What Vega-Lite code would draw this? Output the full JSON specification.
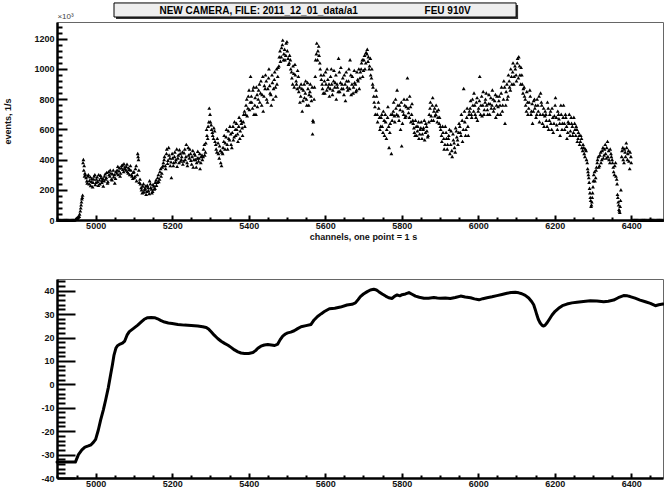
{
  "$schema": "https://vega.github.io/schema/vega-lite/v6.json",
  "background": "white",
  "padding": {"left": 2, "top": 1, "right": 0, "bottom": 0},
  "bounds": "flush",
  "spacing": 59,
  "config": {
    "view": {"stroke": "#666666", "strokeWidth": 1},
    "axis": {
      "domainColor": "#000000", "domainWidth": 2.5, "tickColor": "#000000", "tickWidth": 2,
      "labelFont": "Liberation Sans", "labelFontWeight": "bold", "labelFontSize": 9, "labelColor": "#111111",
      "titleFont": "Liberation Sans", "titleFontWeight": "bold", "titleFontSize": 9, "titleColor": "#111111",
      "grid": false, "labelOverlap": false, "labelFlush": false, "labelBound": false
    }
  },
  "vconcat": [
    {
      "width": 606,
      "height": 198,
      "resolve": {"axis": {"x": "independent", "y": "independent"}},
      "layer": [
        {
          "data": {"values": [
            {"ch":4900,"ev":0},{"ch":4903,"ev":0},{"ch":4906,"ev":0},{"ch":4909,"ev":0},{"ch":4912,"ev":0},{"ch":4915,"ev":0},{"ch":4918,"ev":0},{"ch":4921,"ev":0},{"ch":4924,"ev":0},{"ch":4927,"ev":0},{"ch":4930,"ev":0},{"ch":4933,"ev":0},{"ch":4936,"ev":0},{"ch":4939,"ev":0},{"ch":4942,"ev":0},{"ch":4945,"ev":0},
            {"ch":4948,"ev":5},{"ch":4951,"ev":12},{"ch":4954,"ev":18},{"ch":4957,"ev":25},{"ch":4960,"ev":60},{"ch":4962,"ev":100},{"ch":4964,"ev":140},{"ch":4966,"ev":165},{"ch":4968,"ev":400},{"ch":4970,"ev":360},{"ch":4972,"ev":310},
            {"ch":4949,"ev":8},{"ch":4952,"ev":15},{"ch":4955,"ev":22},{"ch":4958,"ev":40},{"ch":4961,"ev":80},{"ch":4963,"ev":120},{"ch":4965,"ev":150},{"ch":4967,"ev":380},{"ch":4969,"ev":330},{"ch":4971,"ev":290},{"ch":4973,"ev":300},
            {"ch":4975,"ev":280},{"ch":4978,"ev":245},{"ch":4981,"ev":300},{"ch":4984,"ev":262},{"ch":4987,"ev":228},{"ch":4990,"ev":275},{"ch":4993,"ev":250},{"ch":4996,"ev":290},{"ch":4999,"ev":235},{"ch":5002,"ev":270},{"ch":5005,"ev":255},{"ch":5008,"ev":300},{"ch":5011,"ev":240},{"ch":5014,"ev":280},{"ch":5017,"ev":262},{"ch":5020,"ev":225},
            {"ch":4977,"ev":260},{"ch":4980,"ev":290},{"ch":4983,"ev":240},{"ch":4986,"ev":285},{"ch":4989,"ev":255},{"ch":4992,"ev":220},{"ch":4995,"ev":270},{"ch":4998,"ev":300},{"ch":5001,"ev":250},{"ch":5004,"ev":285},{"ch":5007,"ev":230},{"ch":5010,"ev":265},{"ch":5013,"ev":295},{"ch":5016,"ev":250},{"ch":5019,"ev":275},
            {"ch":5023,"ev":290},{"ch":5026,"ev":270},{"ch":5029,"ev":315},{"ch":5032,"ev":255},{"ch":5035,"ev":300},{"ch":5038,"ev":330},{"ch":5041,"ev":270},{"ch":5044,"ev":305},{"ch":5047,"ev":285},{"ch":5050,"ev":245},{"ch":5053,"ev":320},
            {"ch":5022,"ev":260},{"ch":5025,"ev":305},{"ch":5028,"ev":280},{"ch":5031,"ev":245},{"ch":5034,"ev":320},{"ch":5037,"ev":290},{"ch":5040,"ev":310},{"ch":5043,"ev":265},{"ch":5046,"ev":330},{"ch":5049,"ev":300},{"ch":5052,"ev":275},
            {"ch":5056,"ev":330},{"ch":5059,"ev":300},{"ch":5062,"ev":345},{"ch":5065,"ev":310},{"ch":5068,"ev":360},{"ch":5071,"ev":335},{"ch":5074,"ev":372},{"ch":5077,"ev":340},{"ch":5080,"ev":355},{"ch":5083,"ev":320},{"ch":5086,"ev":345},{"ch":5089,"ev":300},{"ch":5092,"ev":330},{"ch":5095,"ev":290},{"ch":5098,"ev":315},
            {"ch":5055,"ev":310},{"ch":5058,"ev":355},{"ch":5061,"ev":325},{"ch":5064,"ev":290},{"ch":5067,"ev":345},{"ch":5070,"ev":365},{"ch":5073,"ev":320},{"ch":5076,"ev":350},{"ch":5079,"ev":330},{"ch":5082,"ev":370},{"ch":5085,"ev":310},{"ch":5088,"ev":335},{"ch":5091,"ev":360},{"ch":5094,"ev":300},{"ch":5097,"ev":275},
            {"ch":5101,"ev":280},{"ch":5104,"ev":340},{"ch":5107,"ev":260},{"ch":5110,"ev":440},{"ch":5112,"ev":400},{"ch":5114,"ev":250},
            {"ch":5100,"ev":320},{"ch":5103,"ev":290},{"ch":5106,"ev":360},{"ch":5109,"ev":300},{"ch":5111,"ev":420},{"ch":5113,"ev":330},
            {"ch":5117,"ev":240},{"ch":5120,"ev":200},{"ch":5123,"ev":225},{"ch":5126,"ev":185},{"ch":5129,"ev":210},{"ch":5132,"ev":170},{"ch":5135,"ev":230},{"ch":5138,"ev":195},{"ch":5141,"ev":260},{"ch":5144,"ev":215},{"ch":5147,"ev":180},{"ch":5150,"ev":235},{"ch":5153,"ev":205},{"ch":5156,"ev":250},
            {"ch":5116,"ev":270},{"ch":5119,"ev":215},{"ch":5122,"ev":180},{"ch":5125,"ev":240},{"ch":5128,"ev":200},{"ch":5131,"ev":225},{"ch":5134,"ev":190},{"ch":5137,"ev":215},{"ch":5140,"ev":175},{"ch":5143,"ev":240},{"ch":5146,"ev":205},{"ch":5149,"ev":190},{"ch":5152,"ev":225},{"ch":5155,"ev":210},{"ch":5158,"ev":265},
            {"ch":5159,"ev":230},{"ch":5162,"ev":280},{"ch":5165,"ev":255},{"ch":5168,"ev":320},{"ch":5171,"ev":290},{"ch":5174,"ev":350},
            {"ch":5161,"ev":250},{"ch":5164,"ev":300},{"ch":5167,"ev":270},{"ch":5170,"ev":340},{"ch":5173,"ev":310},{"ch":5176,"ev":360},
            {"ch":5177,"ev":380},{"ch":5180,"ev":420},{"ch":5183,"ev":340},{"ch":5186,"ev":470},{"ch":5189,"ev":395},{"ch":5192,"ev":430},{"ch":5195,"ev":360},{"ch":5198,"ev":280},{"ch":5201,"ev":410},{"ch":5204,"ev":380},{"ch":5207,"ev":450},{"ch":5210,"ev":400},{"ch":5213,"ev":355},{"ch":5216,"ev":430},{"ch":5219,"ev":465},{"ch":5222,"ev":390},{"ch":5225,"ev":420},{"ch":5228,"ev":370},
            {"ch":5179,"ev":400},{"ch":5182,"ev":360},{"ch":5185,"ev":440},{"ch":5188,"ev":375},{"ch":5191,"ev":480},{"ch":5194,"ev":410},{"ch":5197,"ev":385},{"ch":5200,"ev":440},{"ch":5203,"ev":360},{"ch":5206,"ev":420},{"ch":5209,"ev":385},{"ch":5212,"ev":470},{"ch":5215,"ev":410},{"ch":5218,"ev":380},{"ch":5221,"ev":440},{"ch":5224,"ev":400},{"ch":5227,"ev":450},
            {"ch":5231,"ev":445},{"ch":5234,"ev":400},{"ch":5237,"ev":500},{"ch":5240,"ev":360},{"ch":5243,"ev":430},{"ch":5246,"ev":470},{"ch":5249,"ev":395},{"ch":5252,"ev":420},{"ch":5255,"ev":350},{"ch":5258,"ev":440},{"ch":5261,"ev":400},{"ch":5264,"ev":380},{"ch":5267,"ev":455},{"ch":5270,"ev":410},{"ch":5273,"ev":340},{"ch":5276,"ev":420},
            {"ch":5230,"ev":390},{"ch":5233,"ev":470},{"ch":5236,"ev":420},{"ch":5239,"ev":380},{"ch":5242,"ev":480},{"ch":5245,"ev":410},{"ch":5248,"ev":440},{"ch":5251,"ev":370},{"ch":5254,"ev":460},{"ch":5257,"ev":400},{"ch":5260,"ev":430},{"ch":5263,"ev":350},{"ch":5266,"ev":410},{"ch":5269,"ev":390},{"ch":5272,"ev":440},{"ch":5275,"ev":380},{"ch":5278,"ev":430},
            {"ch":5279,"ev":400},{"ch":5282,"ev":470},{"ch":5285,"ev":430},{"ch":5288,"ev":510},{"ch":5291,"ev":560},{"ch":5294,"ev":620},{"ch":5297,"ev":740},{"ch":5300,"ev":650},
            {"ch":5281,"ev":420},{"ch":5284,"ev":500},{"ch":5287,"ev":450},{"ch":5290,"ev":600},{"ch":5293,"ev":540},{"ch":5296,"ev":650},{"ch":5299,"ev":700},
            {"ch":5303,"ev":600},{"ch":5306,"ev":560},{"ch":5309,"ev":610},{"ch":5312,"ev":520},{"ch":5315,"ev":470},{"ch":5318,"ev":540},{"ch":5321,"ev":440},{"ch":5324,"ev":490},{"ch":5327,"ev":380},{"ch":5330,"ev":450},
            {"ch":5302,"ev":630},{"ch":5305,"ev":580},{"ch":5308,"ev":540},{"ch":5311,"ev":590},{"ch":5314,"ev":500},{"ch":5317,"ev":450},{"ch":5320,"ev":510},{"ch":5323,"ev":410},{"ch":5326,"ev":460},{"ch":5329,"ev":360},
            {"ch":5333,"ev":480},{"ch":5336,"ev":560},{"ch":5339,"ev":510},{"ch":5342,"ev":600},{"ch":5345,"ev":470},{"ch":5348,"ev":540},{"ch":5351,"ev":620},{"ch":5354,"ev":500},{"ch":5357,"ev":580},{"ch":5360,"ev":530},{"ch":5363,"ev":650},{"ch":5366,"ev":560},{"ch":5369,"ev":600},{"ch":5372,"ev":520},{"ch":5375,"ev":680},{"ch":5378,"ev":590},{"ch":5381,"ev":640},{"ch":5384,"ev":560},{"ch":5387,"ev":700},{"ch":5390,"ev":620},
            {"ch":5332,"ev":440},{"ch":5335,"ev":520},{"ch":5338,"ev":470},{"ch":5341,"ev":550},{"ch":5344,"ev":500},{"ch":5347,"ev":590},{"ch":5350,"ev":530},{"ch":5353,"ev":570},{"ch":5356,"ev":480},{"ch":5359,"ev":620},{"ch":5362,"ev":550},{"ch":5365,"ev":600},{"ch":5368,"ev":640},{"ch":5371,"ev":570},{"ch":5374,"ev":620},{"ch":5377,"ev":540},{"ch":5380,"ev":660},{"ch":5383,"ev":610},{"ch":5386,"ev":650},{"ch":5389,"ev":720},
            {"ch":5393,"ev":760},{"ch":5396,"ev":690},{"ch":5399,"ev":820},{"ch":5402,"ev":730},{"ch":5405,"ev":950},{"ch":5408,"ev":780},{"ch":5411,"ev":860},{"ch":5414,"ev":700},{"ch":5417,"ev":810},{"ch":5420,"ev":880},{"ch":5423,"ev":750},
            {"ch":5392,"ev":700},{"ch":5395,"ev":800},{"ch":5398,"ev":740},{"ch":5401,"ev":860},{"ch":5404,"ev":780},{"ch":5407,"ev":820},{"ch":5410,"ev":740},{"ch":5413,"ev":880},{"ch":5416,"ev":760},{"ch":5419,"ev":700},{"ch":5422,"ev":830},
            {"ch":5426,"ev":860},{"ch":5429,"ev":780},{"ch":5432,"ev":920},{"ch":5435,"ev":830},{"ch":5438,"ev":720},{"ch":5441,"ev":890},{"ch":5444,"ev":960},{"ch":5447,"ev":800},{"ch":5450,"ev":870},{"ch":5453,"ev":1000},{"ch":5456,"ev":840},{"ch":5459,"ev":760},{"ch":5462,"ev":910},{"ch":5465,"ev":870},{"ch":5468,"ev":980},{"ch":5471,"ev":820},{"ch":5474,"ev":900},{"ch":5477,"ev":1010},
            {"ch":5425,"ev":800},{"ch":5428,"ev":900},{"ch":5431,"ev":840},{"ch":5434,"ev":760},{"ch":5437,"ev":950},{"ch":5440,"ev":820},{"ch":5443,"ev":870},{"ch":5446,"ev":920},{"ch":5449,"ev":780},{"ch":5452,"ev":940},{"ch":5455,"ev":890},{"ch":5458,"ev":830},{"ch":5461,"ev":960},{"ch":5464,"ev":800},{"ch":5467,"ev":930},{"ch":5470,"ev":880},{"ch":5473,"ev":1000},{"ch":5476,"ev":950},
            {"ch":5480,"ev":1080},{"ch":5483,"ev":1050},{"ch":5486,"ev":1140},{"ch":5489,"ev":1190},{"ch":5492,"ev":1100},{"ch":5495,"ev":1060},{"ch":5498,"ev":1170},{"ch":5501,"ev":1120},{"ch":5504,"ev":1030},{"ch":5507,"ev":1090},
            {"ch":5479,"ev":1020},{"ch":5482,"ev":1120},{"ch":5485,"ev":1080},{"ch":5488,"ev":1160},{"ch":5491,"ev":1060},{"ch":5494,"ev":1130},{"ch":5497,"ev":1090},{"ch":5500,"ev":1180},{"ch":5503,"ev":1070},{"ch":5506,"ev":1040},{"ch":5509,"ev":1060},
            {"ch":5510,"ev":1000},{"ch":5513,"ev":940},{"ch":5516,"ev":1020},{"ch":5519,"ev":880},{"ch":5522,"ev":960},{"ch":5525,"ev":900},{"ch":5528,"ev":990},
            {"ch":5512,"ev":980},{"ch":5515,"ev":900},{"ch":5518,"ev":970},{"ch":5521,"ev":1030},{"ch":5524,"ev":920},{"ch":5527,"ev":870},{"ch":5530,"ev":950},
            {"ch":5531,"ev":850},{"ch":5534,"ev":780},{"ch":5537,"ev":900},{"ch":5540,"ev":720},{"ch":5543,"ev":860},{"ch":5546,"ev":810},{"ch":5549,"ev":920},{"ch":5552,"ev":760},{"ch":5555,"ev":870},{"ch":5558,"ev":830},{"ch":5561,"ev":900},{"ch":5564,"ev":790},{"ch":5567,"ev":570},{"ch":5569,"ev":650},{"ch":5572,"ev":880},
            {"ch":5533,"ev":880},{"ch":5536,"ev":820},{"ch":5539,"ev":870},{"ch":5542,"ev":790},{"ch":5545,"ev":900},{"ch":5548,"ev":840},{"ch":5551,"ev":800},{"ch":5554,"ev":910},{"ch":5557,"ev":760},{"ch":5560,"ev":850},{"ch":5563,"ev":820},{"ch":5566,"ev":880},{"ch":5568,"ev":660},{"ch":5571,"ev":800},{"ch":5574,"ev":950},
            {"ch":5575,"ev":1060},{"ch":5578,"ev":1170},{"ch":5581,"ev":1120},{"ch":5584,"ev":1090},{"ch":5587,"ev":1000},
            {"ch":5577,"ev":1100},{"ch":5580,"ev":1060},{"ch":5583,"ev":1150},{"ch":5586,"ev":1040},{"ch":5589,"ev":960},
            {"ch":5590,"ev":930},{"ch":5593,"ev":870},{"ch":5596,"ev":960},{"ch":5599,"ev":840},{"ch":5602,"ev":900},{"ch":5605,"ev":1000},{"ch":5608,"ev":880},{"ch":5611,"ev":820},{"ch":5614,"ev":950},{"ch":5617,"ev":900},{"ch":5620,"ev":860},{"ch":5623,"ev":990},{"ch":5626,"ev":910},{"ch":5629,"ev":800},{"ch":5632,"ev":880},{"ch":5635,"ev":1070},{"ch":5638,"ev":850},{"ch":5641,"ev":1010},{"ch":5644,"ev":900},{"ch":5647,"ev":870},{"ch":5650,"ev":960},{"ch":5653,"ev":790},{"ch":5656,"ev":920},{"ch":5659,"ev":860},{"ch":5662,"ev":1000},{"ch":5665,"ev":1060},{"ch":5668,"ev":830},{"ch":5671,"ev":950},{"ch":5674,"ev":880},{"ch":5677,"ev":910},{"ch":5680,"ev":850},{"ch":5683,"ev":980},{"ch":5686,"ev":920},{"ch":5689,"ev":870},
            {"ch":5592,"ev":900},{"ch":5595,"ev":840},{"ch":5598,"ev":920},{"ch":5601,"ev":980},{"ch":5604,"ev":860},{"ch":5607,"ev":930},{"ch":5610,"ev":900},{"ch":5613,"ev":870},{"ch":5616,"ev":1000},{"ch":5619,"ev":830},{"ch":5622,"ev":920},{"ch":5625,"ev":880},{"ch":5628,"ev":960},{"ch":5631,"ev":900},{"ch":5634,"ev":850},{"ch":5637,"ev":980},{"ch":5640,"ev":910},{"ch":5643,"ev":870},{"ch":5646,"ev":940},{"ch":5649,"ev":830},{"ch":5652,"ev":900},{"ch":5655,"ev":980},{"ch":5658,"ev":880},{"ch":5661,"ev":920},{"ch":5664,"ev":870},{"ch":5667,"ev":960},{"ch":5670,"ev":900},{"ch":5673,"ev":840},{"ch":5676,"ev":990},{"ch":5679,"ev":900},{"ch":5682,"ev":860},{"ch":5685,"ev":930},{"ch":5688,"ev":1000},
            {"ch":5692,"ev":980},{"ch":5695,"ev":1040},{"ch":5698,"ev":950},{"ch":5701,"ev":1060},{"ch":5704,"ev":1000},{"ch":5707,"ev":1110},{"ch":5710,"ev":1130},{"ch":5713,"ev":1080},{"ch":5716,"ev":1020},{"ch":5719,"ev":960},{"ch":5722,"ev":1000},
            {"ch":5691,"ev":940},{"ch":5694,"ev":1000},{"ch":5697,"ev":1060},{"ch":5700,"ev":990},{"ch":5703,"ev":1090},{"ch":5706,"ev":1040},{"ch":5709,"ev":1100},{"ch":5712,"ev":1050},{"ch":5715,"ev":1000},{"ch":5718,"ev":1070},{"ch":5721,"ev":940},{"ch":5724,"ev":900},
            {"ch":5725,"ev":880},{"ch":5728,"ev":780},{"ch":5731,"ev":700},{"ch":5734,"ev":820},{"ch":5737,"ev":650},{"ch":5740,"ev":740},{"ch":5743,"ev":600},
            {"ch":5727,"ev":820},{"ch":5730,"ev":750},{"ch":5733,"ev":860},{"ch":5736,"ev":700},{"ch":5739,"ev":780},{"ch":5742,"ev":680},{"ch":5745,"ev":620},
            {"ch":5746,"ev":680},{"ch":5749,"ev":620},{"ch":5752,"ev":720},{"ch":5755,"ev":560},{"ch":5758,"ev":650},{"ch":5761,"ev":600},{"ch":5764,"ev":750},{"ch":5767,"ev":480},{"ch":5770,"ev":640},{"ch":5773,"ev":440},
            {"ch":5748,"ev":700},{"ch":5751,"ev":580},{"ch":5754,"ev":660},{"ch":5757,"ev":700},{"ch":5760,"ev":540},{"ch":5763,"ev":680},{"ch":5766,"ev":620},{"ch":5769,"ev":580},{"ch":5772,"ev":700},{"ch":5775,"ev":660},
            {"ch":5776,"ev":700},{"ch":5779,"ev":780},{"ch":5782,"ev":650},{"ch":5785,"ev":740},{"ch":5788,"ev":860},{"ch":5791,"ev":690},{"ch":5794,"ev":760},{"ch":5797,"ev":600},{"ch":5800,"ev":490},{"ch":5803,"ev":720},{"ch":5806,"ev":800},{"ch":5809,"ev":680},{"ch":5812,"ev":750},{"ch":5815,"ev":940},{"ch":5818,"ev":710},{"ch":5821,"ev":820},{"ch":5824,"ev":650},{"ch":5827,"ev":770},
            {"ch":5778,"ev":720},{"ch":5781,"ev":690},{"ch":5784,"ev":800},{"ch":5787,"ev":700},{"ch":5790,"ev":760},{"ch":5793,"ev":660},{"ch":5796,"ev":730},{"ch":5799,"ev":780},{"ch":5802,"ev":640},{"ch":5805,"ev":700},{"ch":5808,"ev":760},{"ch":5811,"ev":690},{"ch":5814,"ev":800},{"ch":5817,"ev":740},{"ch":5820,"ev":680},{"ch":5823,"ev":750},{"ch":5826,"ev":700},{"ch":5829,"ev":660},
            {"ch":5830,"ev":640},{"ch":5833,"ev":580},{"ch":5836,"ev":660},{"ch":5839,"ev":560},{"ch":5842,"ev":620},{"ch":5845,"ev":540},{"ch":5848,"ev":600},{"ch":5851,"ev":650},{"ch":5854,"ev":570},{"ch":5857,"ev":610},{"ch":5860,"ev":530},{"ch":5863,"ev":640},{"ch":5866,"ev":590},{"ch":5869,"ev":560},
            {"ch":5832,"ev":610},{"ch":5835,"ev":560},{"ch":5838,"ev":620},{"ch":5841,"ev":590},{"ch":5844,"ev":650},{"ch":5847,"ev":570},{"ch":5850,"ev":610},{"ch":5853,"ev":540},{"ch":5856,"ev":600},{"ch":5859,"ev":660},{"ch":5862,"ev":580},{"ch":5865,"ev":620},{"ch":5868,"ev":550},{"ch":5871,"ev":650},
            {"ch":5872,"ev":700},{"ch":5875,"ev":780},{"ch":5878,"ev":660},{"ch":5881,"ev":810},{"ch":5884,"ev":720},{"ch":5887,"ev":690},{"ch":5890,"ev":760},{"ch":5893,"ev":650},{"ch":5896,"ev":730},{"ch":5899,"ev":680},
            {"ch":5874,"ev":740},{"ch":5877,"ev":690},{"ch":5880,"ev":760},{"ch":5883,"ev":660},{"ch":5886,"ev":740},{"ch":5889,"ev":700},{"ch":5892,"ev":720},{"ch":5895,"ev":680},{"ch":5898,"ev":640},{"ch":5901,"ev":620},
            {"ch":5902,"ev":600},{"ch":5905,"ev":520},{"ch":5908,"ev":580},{"ch":5911,"ev":470},{"ch":5914,"ev":620},{"ch":5917,"ev":540},{"ch":5920,"ev":500},{"ch":5923,"ev":560},{"ch":5926,"ev":440},{"ch":5929,"ev":590},{"ch":5932,"ev":420},{"ch":5935,"ev":530},{"ch":5938,"ev":480},{"ch":5941,"ev":610},{"ch":5944,"ev":550},{"ch":5947,"ev":500},
            {"ch":5904,"ev":560},{"ch":5907,"ev":620},{"ch":5910,"ev":540},{"ch":5913,"ev":500},{"ch":5916,"ev":580},{"ch":5919,"ev":470},{"ch":5922,"ev":540},{"ch":5925,"ev":600},{"ch":5928,"ev":500},{"ch":5931,"ev":460},{"ch":5934,"ev":570},{"ch":5937,"ev":510},{"ch":5940,"ev":450},{"ch":5943,"ev":590},{"ch":5946,"ev":530},{"ch":5949,"ev":580},
            {"ch":5950,"ev":640},{"ch":5953,"ev":580},{"ch":5956,"ev":700},{"ch":5959,"ev":520},{"ch":5962,"ev":870},{"ch":5965,"ev":650},{"ch":5968,"ev":600},{"ch":5971,"ev":740},{"ch":5974,"ev":560},
            {"ch":5952,"ev":620},{"ch":5955,"ev":560},{"ch":5958,"ev":660},{"ch":5961,"ev":600},{"ch":5964,"ev":720},{"ch":5967,"ev":560},{"ch":5970,"ev":680},{"ch":5973,"ev":620},{"ch":5976,"ev":700},
            {"ch":5977,"ev":720},{"ch":5980,"ev":790},{"ch":5983,"ev":680},{"ch":5986,"ev":760},{"ch":5989,"ev":840},{"ch":5992,"ev":700},{"ch":5995,"ev":780},{"ch":5998,"ev":660},{"ch":6001,"ev":740},{"ch":6004,"ev":950},{"ch":6007,"ev":760},{"ch":6010,"ev":690},{"ch":6013,"ev":850},{"ch":6016,"ev":730},{"ch":6019,"ev":800},{"ch":6022,"ev":760},{"ch":6025,"ev":700},{"ch":6028,"ev":830},{"ch":6031,"ev":770},{"ch":6034,"ev":740},{"ch":6037,"ev":860},{"ch":6040,"ev":720},{"ch":6043,"ev":790},{"ch":6046,"ev":680},{"ch":6049,"ev":820},{"ch":6052,"ev":750},
            {"ch":5979,"ev":740},{"ch":5982,"ev":700},{"ch":5985,"ev":800},{"ch":5988,"ev":720},{"ch":5991,"ev":760},{"ch":5994,"ev":680},{"ch":5997,"ev":810},{"ch":6000,"ev":720},{"ch":6003,"ev":790},{"ch":6006,"ev":700},{"ch":6009,"ev":820},{"ch":6012,"ev":760},{"ch":6015,"ev":700},{"ch":6018,"ev":780},{"ch":6021,"ev":840},{"ch":6024,"ev":730},{"ch":6027,"ev":770},{"ch":6030,"ev":700},{"ch":6033,"ev":810},{"ch":6036,"ev":760},{"ch":6039,"ev":800},{"ch":6042,"ev":740},{"ch":6045,"ev":830},{"ch":6048,"ev":760},{"ch":6051,"ev":700},{"ch":6054,"ev":790},
            {"ch":6055,"ev":820},{"ch":6058,"ev":700},{"ch":6061,"ev":880},{"ch":6064,"ev":760},{"ch":6067,"ev":920},{"ch":6070,"ev":640},{"ch":6073,"ev":850},{"ch":6076,"ev":800},{"ch":6079,"ev":960},{"ch":6082,"ev":880},{"ch":6085,"ev":1000},{"ch":6088,"ev":900},{"ch":6091,"ev":1040},{"ch":6094,"ev":950},
            {"ch":6057,"ev":760},{"ch":6060,"ev":840},{"ch":6063,"ev":720},{"ch":6066,"ev":800},{"ch":6069,"ev":880},{"ch":6072,"ev":760},{"ch":6075,"ev":900},{"ch":6078,"ev":820},{"ch":6081,"ev":920},{"ch":6084,"ev":860},{"ch":6087,"ev":950},{"ch":6090,"ev":980},{"ch":6093,"ev":900},{"ch":6096,"ev":1020},
            {"ch":6097,"ev":1000},{"ch":6100,"ev":920},{"ch":6103,"ev":1070},{"ch":6106,"ev":1080},{"ch":6109,"ev":960},{"ch":6112,"ev":1010},{"ch":6115,"ev":900},{"ch":6118,"ev":870},
            {"ch":6099,"ev":960},{"ch":6102,"ev":1040},{"ch":6105,"ev":940},{"ch":6108,"ev":1020},{"ch":6111,"ev":900},{"ch":6114,"ev":960},{"ch":6117,"ev":840},{"ch":6120,"ev":880},
            {"ch":6121,"ev":820},{"ch":6124,"ev":760},{"ch":6127,"ev":850},{"ch":6130,"ev":700},{"ch":6133,"ev":780},{"ch":6136,"ev":820},{"ch":6139,"ev":720},{"ch":6142,"ev":640},{"ch":6145,"ev":790},{"ch":6148,"ev":740},{"ch":6151,"ev":680},{"ch":6154,"ev":800},{"ch":6157,"ev":720},{"ch":6160,"ev":650},{"ch":6163,"ev":840},{"ch":6166,"ev":760},{"ch":6169,"ev":700},{"ch":6172,"ev":620},
            {"ch":6123,"ev":800},{"ch":6126,"ev":720},{"ch":6129,"ev":780},{"ch":6132,"ev":740},{"ch":6135,"ev":860},{"ch":6138,"ev":700},{"ch":6141,"ev":770},{"ch":6144,"ev":720},{"ch":6147,"ev":800},{"ch":6150,"ev":760},{"ch":6153,"ev":700},{"ch":6156,"ev":760},{"ch":6159,"ev":820},{"ch":6162,"ev":700},{"ch":6165,"ev":780},{"ch":6168,"ev":640},{"ch":6171,"ev":740},{"ch":6174,"ev":690},
            {"ch":6175,"ev":720},{"ch":6178,"ev":660},{"ch":6181,"ev":780},{"ch":6184,"ev":600},{"ch":6187,"ev":700},{"ch":6190,"ev":640},{"ch":6193,"ev":740},{"ch":6196,"ev":580},{"ch":6199,"ev":690},{"ch":6202,"ev":810},{"ch":6205,"ev":630},{"ch":6208,"ev":720},{"ch":6211,"ev":670},{"ch":6214,"ev":560},{"ch":6217,"ev":700},{"ch":6220,"ev":640},{"ch":6223,"ev":760},{"ch":6226,"ev":600},{"ch":6229,"ev":680},{"ch":6232,"ev":540},{"ch":6235,"ev":650},{"ch":6238,"ev":700},{"ch":6241,"ev":590},{"ch":6244,"ev":640},{"ch":6247,"ev":560},{"ch":6250,"ev":680},{"ch":6253,"ev":600},{"ch":6256,"ev":620},{"ch":6259,"ev":520},{"ch":6262,"ev":580},{"ch":6265,"ev":500},{"ch":6268,"ev":560},{"ch":6271,"ev":480},
            {"ch":6177,"ev":700},{"ch":6180,"ev":620},{"ch":6183,"ev":740},{"ch":6186,"ev":660},{"ch":6189,"ev":720},{"ch":6192,"ev":600},{"ch":6195,"ev":680},{"ch":6198,"ev":640},{"ch":6201,"ev":760},{"ch":6204,"ev":680},{"ch":6207,"ev":600},{"ch":6210,"ev":700},{"ch":6213,"ev":640},{"ch":6216,"ev":760},{"ch":6219,"ev":600},{"ch":6222,"ev":680},{"ch":6225,"ev":640},{"ch":6228,"ev":700},{"ch":6231,"ev":620},{"ch":6234,"ev":580},{"ch":6237,"ev":640},{"ch":6240,"ev":560},{"ch":6243,"ev":680},{"ch":6246,"ev":620},{"ch":6249,"ev":580},{"ch":6252,"ev":640},{"ch":6255,"ev":560},{"ch":6258,"ev":600},{"ch":6261,"ev":540},{"ch":6264,"ev":560},{"ch":6267,"ev":520},{"ch":6270,"ev":540},{"ch":6273,"ev":460},
            {"ch":6274,"ev":500},{"ch":6277,"ev":440},{"ch":6280,"ev":470},{"ch":6283,"ev":400},{"ch":6286,"ev":340},
            {"ch":6276,"ev":480},{"ch":6279,"ev":420},{"ch":6282,"ev":460},{"ch":6285,"ev":380},
            {"ch":6288,"ev":300},{"ch":6290,"ev":250},{"ch":6292,"ev":180},{"ch":6294,"ev":130},{"ch":6296,"ev":100},{"ch":6298,"ev":150},{"ch":6300,"ev":220},{"ch":6302,"ev":300},{"ch":6305,"ev":260},{"ch":6308,"ev":330},
            {"ch":6287,"ev":320},{"ch":6289,"ev":280},{"ch":6291,"ev":210},{"ch":6293,"ev":150},{"ch":6295,"ev":90},{"ch":6297,"ev":120},{"ch":6299,"ev":180},{"ch":6301,"ev":260},{"ch":6304,"ev":320},{"ch":6307,"ev":280},{"ch":6309,"ev":350},
            {"ch":6311,"ev":380},{"ch":6314,"ev":420},{"ch":6317,"ev":360},{"ch":6320,"ev":450},{"ch":6323,"ev":400},{"ch":6326,"ev":480},{"ch":6329,"ev":430},{"ch":6332,"ev":500},{"ch":6335,"ev":410},{"ch":6338,"ev":520},{"ch":6341,"ev":460},{"ch":6344,"ev":380},{"ch":6347,"ev":440},
            {"ch":6312,"ev":400},{"ch":6315,"ev":350},{"ch":6318,"ev":430},{"ch":6321,"ev":380},{"ch":6324,"ev":460},{"ch":6327,"ev":410},{"ch":6330,"ev":470},{"ch":6333,"ev":440},{"ch":6336,"ev":480},{"ch":6339,"ev":420},{"ch":6342,"ev":400},{"ch":6345,"ev":470},{"ch":6348,"ev":420},
            {"ch":6350,"ev":400},{"ch":6353,"ev":350},{"ch":6356,"ev":300},{"ch":6359,"ev":380},{"ch":6362,"ev":270},
            {"ch":6351,"ev":380},{"ch":6354,"ev":320},{"ch":6357,"ev":360},{"ch":6360,"ev":290},{"ch":6363,"ev":240},
            {"ch":6364,"ev":170},{"ch":6366,"ev":120},{"ch":6368,"ev":70},{"ch":6370,"ev":50},{"ch":6372,"ev":130},
            {"ch":6365,"ev":150},{"ch":6367,"ev":100},{"ch":6369,"ev":60},{"ch":6371,"ev":90},{"ch":6373,"ev":200},
            {"ch":6375,"ev":420},{"ch":6378,"ev":480},{"ch":6381,"ev":380},{"ch":6384,"ev":450},{"ch":6387,"ev":510},{"ch":6390,"ev":400},{"ch":6393,"ev":460},{"ch":6396,"ev":340},{"ch":6399,"ev":420},
            {"ch":6376,"ev":460},{"ch":6379,"ev":400},{"ch":6382,"ev":470},{"ch":6385,"ev":420},{"ch":6388,"ev":480},{"ch":6391,"ev":440},{"ch":6394,"ev":390},{"ch":6397,"ev":450},{"ch":6400,"ev":380},
            {"ch":6402,"ev":0},{"ch":6405,"ev":0},{"ch":6408,"ev":0},{"ch":6411,"ev":0},{"ch":6414,"ev":0},{"ch":6417,"ev":0},{"ch":6420,"ev":0},{"ch":6423,"ev":0},{"ch":6426,"ev":0},{"ch":6429,"ev":0},{"ch":6432,"ev":0},{"ch":6435,"ev":0},{"ch":6438,"ev":0},{"ch":6441,"ev":0},{"ch":6444,"ev":0},{"ch":6447,"ev":0},{"ch":6450,"ev":0},{"ch":6453,"ev":0},{"ch":6456,"ev":0},{"ch":6459,"ev":0},{"ch":6462,"ev":0},{"ch":6465,"ev":0},{"ch":6468,"ev":0},{"ch":6471,"ev":0},{"ch":6474,"ev":0},{"ch":6477,"ev":0},{"ch":6480,"ev":0},{"ch":6483,"ev":0}
          ]},
          "mark": {"type": "point", "shape": "triangle-up", "filled": true, "color": "#000000", "opacity": 1, "size": 15},
          "encoding": {
            "x": {
              "field": "ch", "type": "quantitative",
              "scale": {"domain": [4899, 6483], "nice": false, "zero": false},
              "axis": {
                "title": "channels, one point = 1 s",
                "values": [4900,4950,5000,5050,5100,5150,5200,5250,5300,5350,5400,5450,5500,5550,5600,5650,5700,5750,5800,5850,5900,5950,6000,6050,6100,6150,6200,6250,6300,6350,6400,6450],
                "labelExpr": "datum.value % 200 === 0 ? '' + datum.value : ''",
                "tickSize": {"condition": {"test": "datum.value % 200 === 0", "value": -5}, "value": -3},
                "labelPadding": 6,
                "titlePadding": 0,
                "titleX": 306,
                "labelOverlap": false,
                "labelFlush": false,
                "labelBound": false
              }
            },
            "y": {
              "field": "ev", "type": "quantitative",
              "scale": {"domain": [0, 1310], "nice": false, "zero": false},
              "axis": {
                "title": "events, 1/s",
                "values": [0,40,80,120,160,200,240,280,320,360,400,440,480,520,560,600,640,680,720,760,800,840,880,920,960,1000,1040,1080,1120,1160,1200,1240,1280],
                "labelExpr": "datum.value % 200 === 0 ? '' + datum.value : ''",
                "tickSize": {"condition": {"test": "datum.value % 200 === 0", "value": -10}, "value": -5},
                "labelPadding": 13,
                "titleX": -45,
                "labelOverlap": false,
                "labelFlush": false,
                "labelBound": false
              }
            }
          }
        },
        {
          "data": {"values": [{}]},
          "mark": {"type": "rect", "color": "#333333", "xOffset": 2, "x2Offset": 2, "yOffset": 2, "y2Offset": 2},
          "encoding": {
            "x": {"datum": 5048, "type": "quantitative", "axis": null},
            "x2": {"datum": 6099},
            "y": {"datum": 1436, "type": "quantitative", "axis": null},
            "y2": {"datum": 1343}
          }
        },
        {
          "data": {"values": [{}]},
          "mark": {"type": "rect", "fill": "#eeeeee", "stroke": "#000000", "strokeWidth": 1},
          "encoding": {
            "x": {"datum": 5048, "type": "quantitative", "axis": null},
            "x2": {"datum": 6099},
            "y": {"datum": 1436, "type": "quantitative", "axis": null},
            "y2": {"datum": 1343}
          }
        },
        {
          "data": {"values": [{}]},
          "mark": {"type": "text", "text": "NEW CAMERA, FILE: 2011_12_01_data/a1", "font": "Liberation Sans", "fontWeight": "bold", "fontSize": 10, "align": "center", "baseline": "alphabetic", "color": "#000000"},
          "encoding": {
            "x": {"datum": 5426, "type": "quantitative", "axis": null},
            "y": {"datum": 1364, "type": "quantitative", "axis": null}
          }
        },
        {
          "data": {"values": [{}]},
          "mark": {"type": "text", "text": "FEU 910V", "font": "Liberation Sans", "fontWeight": "bold", "fontSize": 10, "align": "center", "baseline": "alphabetic", "color": "#000000"},
          "encoding": {
            "x": {"datum": 5920, "type": "quantitative", "axis": null},
            "y": {"datum": 1364, "type": "quantitative", "axis": null}
          }
        },
        {
          "data": {"values": [{}]},
          "mark": {"type": "text", "text": "×10³", "font": "Liberation Sans", "fontSize": 8, "align": "left", "baseline": "alphabetic", "dy": -3, "color": "#444444"},
          "encoding": {
            "x": {"datum": 4900, "type": "quantitative", "axis": null},
            "y": {"datum": 1310, "type": "quantitative", "axis": null}
          }
        }
      ]
    },
    {
      "width": 606,
      "height": 199,
      "data": {"values": [
        {"ch":4899,"y":-33.2},{"ch":4920,"y":-33.2},{"ch":4947,"y":-33.2},{"ch":4955,"y":-30},{"ch":4964,"y":-28},{"ch":4972,"y":-26.8},{"ch":4981,"y":-26.3},{"ch":4988,"y":-25.8},{"ch":4994,"y":-24.8},{"ch":5000,"y":-23.5},{"ch":5007,"y":-19.5},{"ch":5013,"y":-15.3},{"ch":5020,"y":-11},{"ch":5026,"y":-6.8},{"ch":5033,"y":-1.5},{"ch":5039,"y":4},{"ch":5044,"y":8.5},{"ch":5048,"y":12.5},{"ch":5053,"y":15.5},{"ch":5057,"y":16.5},{"ch":5064,"y":17.2},{"ch":5070,"y":17.6},{"ch":5076,"y":18.5},{"ch":5082,"y":21},{"ch":5088,"y":22.5},{"ch":5100,"y":24},{"ch":5110,"y":25.3},{"ch":5120,"y":26.8},{"ch":5127,"y":27.8},{"ch":5136,"y":28.5},{"ch":5145,"y":28.6},{"ch":5154,"y":28.5},{"ch":5162,"y":28},{"ch":5171,"y":27.2},{"ch":5180,"y":26.6},{"ch":5190,"y":26.2},{"ch":5200,"y":26},{"ch":5215,"y":25.6},{"ch":5232,"y":25.3},{"ch":5250,"y":25.1},{"ch":5267,"y":24.9},{"ch":5280,"y":24.6},{"ch":5289,"y":24.3},{"ch":5296,"y":23.5},{"ch":5302,"y":22.5},{"ch":5310,"y":21},{"ch":5319,"y":19.6},{"ch":5328,"y":18.4},{"ch":5337,"y":17.5},{"ch":5346,"y":16.7},{"ch":5354,"y":15.8},{"ch":5363,"y":14.7},{"ch":5372,"y":13.9},{"ch":5380,"y":13.4},{"ch":5389,"y":13.2},{"ch":5400,"y":13.2},{"ch":5411,"y":13.6},{"ch":5418,"y":14.4},{"ch":5424,"y":15.4},{"ch":5432,"y":16.3},{"ch":5441,"y":16.8},{"ch":5450,"y":17},{"ch":5459,"y":16.8},{"ch":5468,"y":16.6},{"ch":5476,"y":17.2},{"ch":5482,"y":19},{"ch":5489,"y":20.6},{"ch":5496,"y":21.5},{"ch":5502,"y":22},{"ch":5510,"y":22.3},{"ch":5519,"y":22.9},{"ch":5528,"y":23.8},{"ch":5537,"y":24.6},{"ch":5550,"y":25.1},{"ch":5563,"y":25.6},{"ch":5571,"y":27.5},{"ch":5580,"y":29},{"ch":5590,"y":30.2},{"ch":5598,"y":31.1},{"ch":5611,"y":32.3},{"ch":5625,"y":32.5},{"ch":5640,"y":33},{"ch":5657,"y":33.9},{"ch":5670,"y":34.2},{"ch":5679,"y":34.8},{"ch":5686,"y":36.2},{"ch":5692,"y":37.5},{"ch":5700,"y":38.6},{"ch":5710,"y":39.6},{"ch":5718,"y":40.3},{"ch":5727,"y":40.6},{"ch":5734,"y":40.3},{"ch":5740,"y":39.6},{"ch":5749,"y":38.6},{"ch":5758,"y":37.7},{"ch":5766,"y":37},{"ch":5775,"y":36.7},{"ch":5781,"y":37.6},{"ch":5788,"y":38.2},{"ch":5795,"y":37.8},{"ch":5801,"y":38.3},{"ch":5810,"y":38.6},{"ch":5819,"y":39.2},{"ch":5827,"y":38.5},{"ch":5836,"y":37.7},{"ch":5846,"y":37.2},{"ch":5858,"y":36.8},{"ch":5870,"y":36.8},{"ch":5884,"y":37.1},{"ch":5893,"y":36.9},{"ch":5901,"y":36.8},{"ch":5914,"y":36.9},{"ch":5927,"y":36.7},{"ch":5940,"y":37.1},{"ch":5954,"y":37.7},{"ch":5966,"y":37.3},{"ch":5980,"y":37},{"ch":5990,"y":36.5},{"ch":6002,"y":36.1},{"ch":6012,"y":36.6},{"ch":6023,"y":37},{"ch":6036,"y":37.4},{"ch":6049,"y":37.9},{"ch":6062,"y":38.4},{"ch":6075,"y":38.9},{"ch":6086,"y":39.2},{"ch":6097,"y":39.3},{"ch":6106,"y":39.1},{"ch":6114,"y":38.7},{"ch":6123,"y":38},{"ch":6132,"y":36.9},{"ch":6140,"y":35.3},{"ch":6145,"y":34},{"ch":6149,"y":32},{"ch":6153,"y":29.8},{"ch":6157,"y":27.8},{"ch":6162,"y":26.2},{"ch":6167,"y":25.2},{"ch":6171,"y":24.9},{"ch":6175,"y":25.3},{"ch":6180,"y":26.3},{"ch":6186,"y":27.8},{"ch":6193,"y":29.6},{"ch":6201,"y":31.2},{"ch":6210,"y":32.5},{"ch":6220,"y":33.6},{"ch":6232,"y":34.3},{"ch":6245,"y":34.8},{"ch":6258,"y":35.1},{"ch":6275,"y":35.4},{"ch":6293,"y":35.7},{"ch":6310,"y":35.6},{"ch":6328,"y":35.3},{"ch":6340,"y":35.5},{"ch":6354,"y":36},{"ch":6366,"y":37},{"ch":6380,"y":37.9},{"ch":6390,"y":37.8},{"ch":6397,"y":37.5},{"ch":6410,"y":36.8},{"ch":6423,"y":36},{"ch":6437,"y":35.3},{"ch":6450,"y":34.6},{"ch":6463,"y":33.6},{"ch":6472,"y":34},{"ch":6483,"y":34.3}
      ]},
      "mark": {"type": "line", "color": "#000000", "strokeWidth": 3, "strokeJoin": "round", "strokeCap": "round"},
      "encoding": {
        "x": {
          "field": "ch", "type": "quantitative",
          "scale": {"domain": [4899, 6483], "nice": false, "zero": false},
          "axis": {
            "title": null,
            "values": [4900,4950,5000,5050,5100,5150,5200,5250,5300,5350,5400,5450,5500,5550,5600,5650,5700,5750,5800,5850,5900,5950,6000,6050,6100,6150,6200,6250,6300,6350,6400,6450],
            "labelExpr": "datum.value % 200 === 0 ? '' + datum.value : ''",
            "tickSize": {"condition": {"test": "datum.value % 200 === 0", "value": -5}, "value": -3},
            "labelPadding": 6,
            "labelOverlap": false,
            "labelFlush": false,
            "labelBound": false
          }
        },
        "y": {
          "field": "y", "type": "quantitative",
          "scale": {"domain": [-40, 45], "nice": false, "zero": false},
          "axis": {
            "title": null,
            "values": [-40,-38,-36,-34,-32,-30,-28,-26,-24,-22,-20,-18,-16,-14,-12,-10,-8,-6,-4,-2,0,2,4,6,8,10,12,14,16,18,20,22,24,26,28,30,32,34,36,38,40,42,44],
            "labelExpr": "datum.value % 10 === 0 ? '' + datum.value : ''",
            "tickSize": {"condition": {"test": "datum.value % 10 === 0", "value": -18}, "value": -8},
            "labelPadding": 21,
            "labelOverlap": false,
            "labelFlush": false,
            "labelBound": false
          }
        }
      }
    }
  ]
}
